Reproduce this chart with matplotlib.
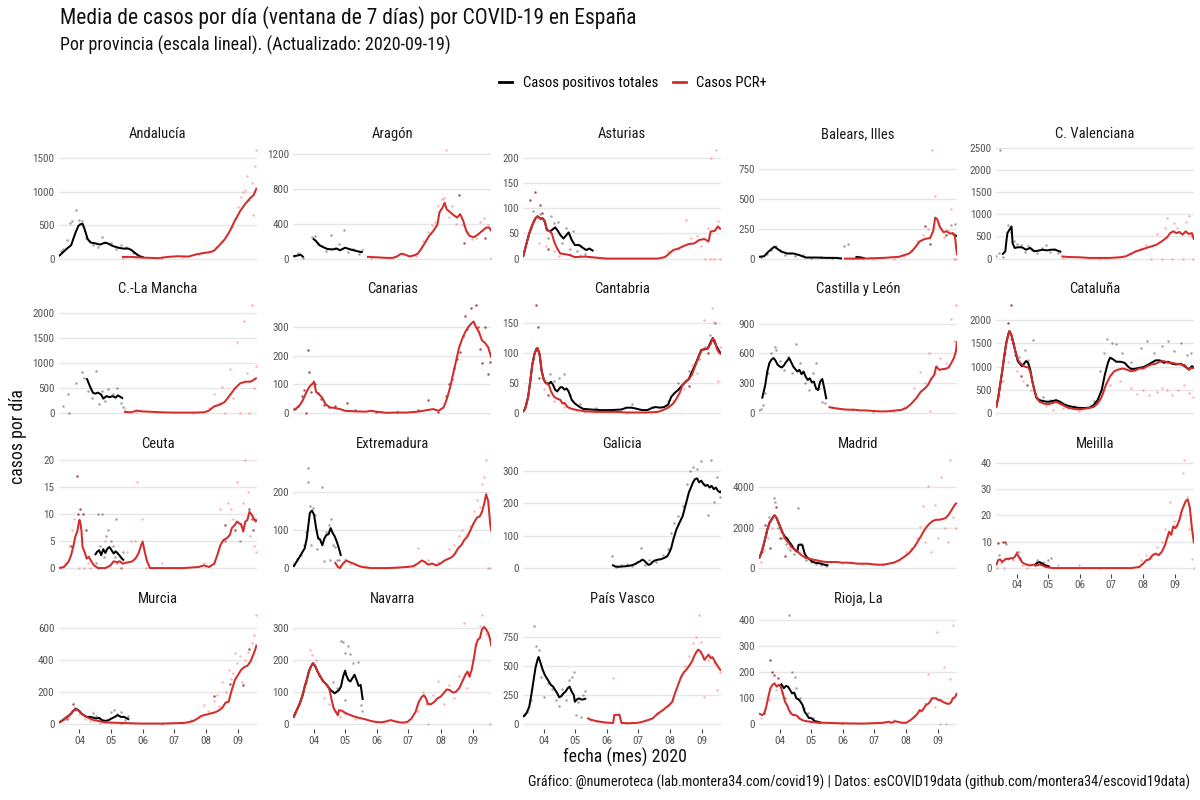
import numpy as np
import matplotlib
matplotlib.use("Agg")
import matplotlib.pyplot as plt
import matplotlib.dates as mdates
from matplotlib.lines import Line2D
from matplotlib import font_manager as fm

_names = {f.name for f in fm.fontManager.ttflist}
_fams = [f for f in ['Roboto Condensed', 'Liberation Sans Narrow', 'Open Sans Condensed', 'Roboto', 'DejaVu Sans'] if f in _names]
plt.rcParams['font.family'] = _fams + ['DejaVu Sans']

NA = np.nan
START = "2020-03-12"          # day 0 of the series below
END_DAY = 191                 # 2020-09-19
month_ticks = ["2020-04-01", "2020-05-01", "2020-06-01", "2020-07-01", "2020-08-01", "2020-09-01"]
month_labels = ["04", "05", "06", "07", "08", "09"]

title = "Media de casos por día (ventana de 7 días) por COVID-19 en España"
subtitle = "Por provincia (escala lineal). (Actualizado: 2020-09-19)"
xlabel = "fecha (mes) 2020"
ylabel = "casos por día"
caption = "Gráfico: @numeroteca (lab.montera34.com/covid19) | Datos: esCOVID19data (github.com/montera34/escovid19data)"
legend_labels = ["Casos positivos totales", "Casos PCR+"]

# ---- data: (day since 2020-03-12, value) ----
# Andalucía
and_tot = [(0,35),(8,150),(12,200),(16,380),(19,490),(21,515),(23,520),(25,440),(28,290),(31,240),(36,225),(40,210),(44,235),(47,230),(52,190),(57,165),(62,150),(67,150),(70,130),(74,80),(78,35),(82,20)]
and_pcr = [(61,25),(70,25),(80,15),(90,10),(96,5),(105,25),(115,35),(125,30),(132,60),(140,85),(146,95),(150,120),(155,200),(160,285),(165,410),(170,570),(175,710),(180,820),(185,910),(188,950),(191,1060)]
and_pts_tot = [(2,120),(4,150),(8,280),(11,530),(13,560),(17,725),(20,580),(22,560),(26,310),(29,260),(33,200),(38,170),(42,320),(45,250),(50,230),(55,140),(60,200),(65,170),(72,90),(76,50)]
and_pts_pcr = [(62,10),(75,20),(100,30),(120,30),(135,70),(145,110),(152,180),(158,260),(162,350),(167,480),(170,600),(173,780),(176,920),(178,1000),(180,1030),(182,1235),(184,880),(186,1135),(187,660),(189,1385),(190,1620)]
and_pts_both = []
# Aragón
ara_tot = [(0,27),(4,35),(7,45),(10,15),(14,NA),(19,230),(22,200),(25,155),(29,130),(33,110),(38,105),(42,115),(45,95),(50,125),(55,105),(60,90),(65,75),(67,75)]
ara_pcr = [(71,20),(80,15),(90,8),(96,8),(100,25),(104,55),(108,45),(112,25),(116,35),(120,55),(123,105),(127,180),(131,260),(135,315),(139,390),(141,530),(144,585),(146,640),(148,565),(151,535),(155,495),(158,470),(161,510),(164,430),(167,315),(170,260),(174,245),(178,275),(182,315),(186,355),(189,355),(191,315)]
ara_pts_tot = [(1,30),(5,60),(9,10),(18,250),(21,260),(24,180),(28,140),(32,90),(36,275),(40,120),(44,170),(49,325),(53,80),(58,110),(63,50),(66,100)]
ara_pts_pcr = [(75,10),(105,60),(118,30),(125,200),(130,300),(134,380),(137,420),(140,600),(143,680),(145,700),(147,1240),(150,480),(153,600),(157,400),(163,380),(168,300),(172,220),(176,240),(180,420),(184,460),(188,380),(191,8)]
ara_pts_both = [(160,730),(165,180),(185,240)]
# Asturias
ast_tot = [(0,3),(3,27),(6,50),(9,67),(12,80),(14,84),(17,79),(19,80),(21,74),(23,57),(26,54),(28,57),(31,62),(33,57),(36,47),(39,40),(42,47),(44,52),(47,37),(50,27),(54,27),(58,21),(61,17),(64,20),(68,15)]
ast_pcr = [(0,3),(3,27),(6,50),(9,67),(12,80),(14,84),(17,79),(19,80),(21,74),(23,57),(26,54),(28,49),(30,34),(33,20),(36,10),(40,9),(45,7),(50,3),(60,4),(70,2),(80,0),(100,0),(130,0),(137,3),(141,10),(145,17),(150,20),(155,25),(160,29),(165,30),(170,37),(175,39),(179,34),(181,54),(185,55),(188,64),(190,59),(191,60)]
ast_pts_tot = [(5,45),(10,95),(16,88),(20,75),(24,40),(27,85),(30,70),(34,72),(38,30),(41,60),(45,20),(48,55),(52,15),(56,25),(60,10)]
ast_pts_pcr = [(8,60),(15,30),(22,25),(30,15),(35,5),(45,10),(55,8),(65,3),(140,15),(150,20),(157,76),(162,40),(168,45),(172,25),(176,0),(178,60),(180,0),(181,200),(184,0),(186,215),(188,75),(190,0)]
ast_pts_both = [(7,117),(12,133),(16,106),(18,90),(24,20)]
# Balears, Illes
bal_tot = [(0,15),(5,20),(9,58),(13,87),(15,100),(18,80),(22,58),(27,43),(33,43),(39,29),(45,9),(55,9),(65,6),(75,6),(80,0),(85,NA),(93,15),(98,10),(102,3),(104,NA),(187,210),(189,195),(191,190)]
bal_pcr = [(82,0),(100,0),(120,6),(135,15),(145,43),(150,87),(155,145),(160,165),(165,173),(168,230),(170,345),(172,330),(174,275),(176,245),(178,222),(181,230),(184,210),(187,215),(189,188),(191,29)]
bal_pts_tot = [(2,10),(8,40),(12,75),(16,110),(20,60),(25,30),(30,50),(35,20),(42,30),(50,5),(60,10),(70,5),(82,110),(86,120),(185,280),(189,290)]
bal_pts_pcr = [(90,0),(110,0),(130,0),(140,20),(148,60),(152,150),(158,200),(163,250),(167,910),(170,530),(174,300),(178,180),(182,230),(185,420),(188,0),(190,0)]
bal_pts_both = [(160,275),(165,120),(180,200)]
# C. Valenciana
cv_tot = [(6,90),(9,165),(10,390),(11,575),(13,650),(15,725),(16,350),(18,240),(21,255),(25,255),(29,200),(33,240),(37,165),(41,180),(45,200),(49,185),(53,200),(57,200),(61,165),(63,150)]
cv_pcr = [(63,50),(70,35),(80,30),(90,15),(100,15),(110,15),(120,30),(125,50),(130,105),(135,165),(140,200),(145,240),(150,275),(155,315),(160,390),(165,480),(168,575),(171,615),(174,575),(177,600),(180,540),(183,615),(186,555),(189,575),(191,425)]
cv_pts_tot = [(0,50),(3,120),(4,2440),(7,30),(12,765),(14,600),(17,400),(20,330),(24,300),(28,150),(31,280),(35,200),(40,130),(44,250),(48,300),(52,150),(56,220),(60,120)]
cv_pts_pcr = [(65,20),(100,0),(130,130),(140,250),(145,300),(150,0),(155,550),(160,0),(163,700),(165,910),(170,0),(172,800),(175,700),(180,0),(183,820),(186,970),(188,500),(190,0)]
cv_pts_both = []
# C.-La Mancha
clm_tot = [(27,700),(29,595),(31,495),(33,410),(35,390),(38,410),(41,370),(43,290),(46,340),(49,320),(52,340),(55,310),(57,355),(60,320),(62,290)]
clm_pcr = [(63,25),(70,15),(75,50),(80,35),(90,25),(100,15),(110,10),(120,10),(130,10),(140,15),(145,50),(150,135),(155,165),(160,220),(165,355),(170,495),(175,595),(180,630),(185,630),(188,665),(191,710)]
clm_pts_tot = [(4,150),(9,390),(10,0),(17,600),(22,815),(24,700),(28,450),(32,300),(36,835),(39,185),(42,450),(45,250),(48,480),(52,380),(56,500),(60,200),(62,120)]
clm_pts_pcr = [(64,80),(75,30),(100,20),(130,10),(145,100),(150,385),(155,200),(158,530),(160,0),(165,890),(168,300),(172,1420),(175,0),(179,1840),(182,800),(184,0),(186,2170),(188,500),(190,940)]
clm_pts_both = []
# Canarias (total and PCR+ coincide)
can_tot = []
can_pcr = [(0,11),(3,17),(6,26),(9,44),(12,68),(15,89),(17,98),(19,104),(20,110),(22,74),(25,65),(28,53),(31,32),(35,20),(40,18),(45,14),(50,8),(60,6),(70,5),(75,8),(80,5),(90,1),(100,2),(110,2),(120,5),(130,11),(135,14),(140,8),(145,20),(148,48),(151,86),(154,134),(157,182),(160,230),(163,260),(166,284),(169,302),(172,314),(174,320),(176,302),(179,284),(182,254),(185,245),(188,230),(191,194)]
can_pts_tot = []
can_pts_pcr = []
can_pts_both = [(2,15),(5,25),(8,60),(10,80),(12,0),(14,222),(15,144),(17,75),(21,100),(24,70),(27,50),(30,30),(34,20),(40,25),(52,36),(60,10),(80,5),(100,5),(120,10),(130,44),(140,5),(147,60),(150,100),(153,120),(155,158),(158,190),(161,215),(164,270),(166,338),(168,293),(171,368),(176,378),(178,300),(180,224),(182,176),(185,300),(188,137),(190,180)]
# Cantabria
cnt_tot = [(0,2),(2,7),(5,27),(7,53),(9,81),(11,98),(13,107),(14,108),(16,98),(18,70),(20,56),(22,50),(25,49),(27,52),(29,47),(31,39),(33,36),(36,43),(38,43),(40,39),(42,41),(44,36),(47,22),(50,16),(54,11),(58,7),(65,6),(75,5),(85,5),(95,6),(100,9),(105,9),(110,7),(115,5),(120,5),(125,9),(128,10),(132,9),(136,10),(140,14),(143,27),(146,33),(150,39),(154,47),(160,57),(166,80),(172,105),(178,107),(183,125),(187,110),(191,98)]
cnt_pcr = [(0,2),(2,7),(5,27),(7,53),(9,81),(11,98),(13,107),(14,108),(16,98),(18,70),(20,56),(22,50),(25,47),(27,36),(30,27),(33,24),(36,22),(38,16),(40,17),(43,10),(47,7),(52,5),(60,3),(70,2),(80,2),(90,2),(100,1),(110,1),(120,1),(130,2),(135,5),(140,9),(145,16),(148,24),(151,33),(154,47),(157,53),(160,56),(163,64),(166,78),(169,91),(172,104),(175,107),(178,107),(181,115),(183,124),(185,121),(187,107),(189,101),(191,98)]
cnt_pts_tot = [(26,65),(30,54),(35,58),(40,65),(45,30),(55,15),(70,8),(90,5),(105,15),(125,10),(140,20),(150,50),(160,70),(170,90),(176,110),(180,130),(185,150)]
cnt_pts_pcr = [(3,15),(8,60),(20,40),(30,20),(40,10),(60,2),(100,0),(145,20),(155,40),(163,80),(168,66),(175,155),(182,175),(184,152),(188,53),(190,110)]
cnt_pts_both = [(10,90),(13,180),(14,144),(15,58),(24,30),(160,45),(178,100)]
# Castilla y León
cyl_tot = [(3,146),(6,282),(8,418),(10,503),(12,537),(14,554),(16,527),(18,486),(20,469),(22,459),(24,479),(26,513),(28,537),(29,554),(31,513),(33,469),(35,442),(37,418),(39,435),(41,391),(43,418),(45,367),(47,333),(49,350),(51,309),(53,316),(55,248),(57,231),(59,316),(61,343),(63,248),(65,139)]
cyl_pcr = [(67,61),(72,51),(77,44),(82,37),(87,34),(92,34),(97,27),(102,27),(107,24),(112,20),(117,17),(122,17),(127,20),(132,27),(137,31),(142,51),(147,95),(152,153),(156,214),(160,248),(163,282),(166,343),(169,384),(171,469),(174,435),(177,442),(180,445),(183,459),(186,513),(188,554),(190,622),(191,724)]
cyl_pts_tot = [(0,30),(2,44),(4,78),(6,200),(9,400),(12,600),(15,663),(16,639),(20,520),(24,430),(28,560),(32,400),(36,690),(40,500),(44,300),(48,231),(52,400),(55,503),(58,250),(61,112),(64,100)]
cyl_pts_pcr = [(70,60),(90,30),(110,10),(130,20),(140,60),(150,250),(155,418),(160,300),(164,605),(165,17),(170,400),(175,550),(180,500),(185,945),(188,724),(190,1088)]
cyl_pts_both = []
# Cataluña
cat_tot = [(0,110),(2,315),(4,608),(6,900),(8,1230),(10,1522),(12,1705),(13,1764),(15,1670),(17,1486),(19,1303),(21,1120),(23,1061),(25,1010),(27,1061),(29,1120),(31,1083),(33,937),(35,695),(37,498),(39,329),(42,278),(46,256),(50,242),(54,256),(58,278),(62,242),(66,183),(70,154),(74,132),(78,117),(82,110),(86,110),(90,117),(94,168),(98,278),(102,498),(105,827),(108,1083),(110,1193),(113,1157),(116,1105),(120,1105),(124,1083),(127,1010),(130,952),(134,952),(138,974),(142,988),(146,1032),(150,1083),(154,1135),(158,1135),(162,1083),(166,1105),(170,1061),(174,1047),(178,1061),(182,1010),(186,937),(189,1010),(191,974)]
cat_pcr = [(0,110),(2,315),(4,608),(6,900),(8,1230),(10,1522),(12,1705),(13,1764),(15,1670),(17,1486),(19,1303),(21,1157),(23,1083),(25,1047),(27,1010),(29,988),(31,988),(33,900),(35,681),(37,498),(39,351),(42,242),(46,205),(50,190),(54,212),(58,242),(62,198),(66,154),(70,110),(74,95),(78,80),(82,80),(86,95),(90,110),(94,132),(98,205),(102,351),(106,608),(110,790),(114,900),(118,937),(122,959),(126,937),(130,900),(134,915),(138,959),(142,959),(146,1010),(150,1047),(154,1061),(158,1105),(162,1120),(166,1083),(170,1083),(174,1061),(178,1047),(182,1032),(186,937),(189,974),(191,959)]
cat_pts_tot = [(5,700),(9,1300),(14,1600),(18,1250),(22,1200),(28,1350),(31,1150),(36,1574),(40,300),(45,350),(52,280),(60,250),(75,150),(95,250),(100,900),(104,1300),(107,1596),(112,1500),(116,1486),(122,1300),(130,1100),(140,1400),(146,1560),(152,1300),(160,1450),(166,1560),(172,1340),(178,1500),(184,1250),(188,1300)]
cat_pts_pcr = [(3,400),(7,680),(12,1100),(20,900),(26,700),(34,500),(40,315),(48,150),(55,58),(65,100),(80,40),(100,300),(110,600),(120,700),(130,534),(136,403),(142,498),(148,388),(155,461),(160,534),(165,498),(170,388),(176,498),(181,608),(186,425),(190,350)]
cat_pts_both = [(14,2328),(12,1940),(16,1500),(24,800),(30,600)]
# Ceuta
ceu_tot = [(35,2.4),(37,3),(39,3.3),(41,2.4),(43,3.5),(45,2.8),(47,3.6),(49,3.9),(51,3.3),(53,2.7),(55,3.1),(57,2.7),(59,2.25),(61,1.75),(63,1.4)]
ceu_pcr = [(0,0),(5,0.2),(8,0.8),(10,1.4),(12,2.4),(14,3.9),(16,5.8),(18,6.8),(19,8),(20,8.9),(21,8.3),(22,6.8),(23,3.9),(25,3),(27,1.75),(29,2.1),(31,1.4),(34,0.5),(38,0),(45,0),(50,0.5),(53,1.25),(56,1.1),(59,1.25),(62,0.8),(65,1),(68,1.1),(71,1.25),(74,1.75),(77,2.7),(79,3.9),(81,4.9),(83,3),(85,1.4),(88,0),(100,0),(120,0),(135,0.2),(140,0.5),(145,0.2),(150,0.8),(153,2.4),(156,4.25),(159,5.2),(162,5.5),(165,6.1),(167,7.4),(170,8),(172,8.6),(174,8.3),(176,8.1),(178,6.75),(180,8.6),(182,8.9),(184,10.4),(186,9.9),(188,9.25),(190,8.6),(191,9)]
ceu_pts_tot = [(36,1),(38,10),(40,4),(42,10),(44,2),(46,6),(48,7),(50,5),(52,4),(54,2),(55,9),(56,1),(60,0),(62,3),(160,5),(175,5)]
ceu_pts_pcr = [(2,0),(6,1),(10,4),(13,7),(15,9),(20,0),(24,0),(28,1),(30,0),(38,0),(45,5),(60,0),(66,3),(70,5),(74,5),(76,16),(80,9),(84,0),(90,0),(100,1),(120,0),(140,1),(150,1),(156,11),(160,5),(163,12),(166,11),(168,9),(172,16),(175,8),(178,12),(180,20),(183,14),(185,6),(188,4),(190,3)]
ceu_pts_both = [(12,4),(18,17),(19,10),(21,11),(23,10),(26,7),(160,8),(170,7),(184,11),(186,9),(187,7)]
# Extremadura
ext_tot = [(0,3),(3,16),(6,29),(9,43),(11,52),(13,78),(15,123),(16,145),(18,151),(20,140),(22,105),(24,78),(26,74),(28,60),(30,78),(32,87),(34,89),(36,105),(38,92),(40,83),(42,69),(44,52),(46,32)]
ext_pcr = [(40,16),(43,3),(45,0),(48,12),(51,20),(54,16),(58,12),(62,7),(66,3),(75,0),(90,0),(100,1),(110,3),(116,5),(120,12),(124,20),(127,16),(130,9),(134,12),(138,7),(142,12),(146,20),(150,25),(153,29),(156,38),(159,52),(162,60),(165,74),(168,83),(171,100),(174,118),(177,132),(180,136),(182,148),(184,167),(186,194),(188,176),(190,114),(191,96)]
ext_pts_tot = [(1,10),(4,25),(7,35),(10,60),(12,95),(14,262),(14,227),(16,163),(17,60),(19,158),(21,140),(23,50),(25,80),(28,213),(30,18),(32,95),(34,114),(35,20),(36,130),(38,60),(40,55),(42,22),(44,20)]
ext_pts_pcr = [(45,5),(50,25),(55,10),(60,10),(70,5),(100,2),(120,52),(130,20),(140,15),(150,50),(155,60),(160,85),(163,100),(167,90),(170,110),(174,150),(177,180),(180,160),(182,222),(184,240),(186,284),(188,0),(190,0)]
ext_pts_both = []
# Galicia
gal_tot = [(86,10),(89,5),(92,4),(96,5),(100,6),(104,8),(108,12),(111,18),(113,21),(115,26),(117,23),(119,16),(121,10),(123,12),(125,19),(127,23),(130,26),(133,27),(136,31),(139,36),(141,47),(143,62),(145,88),(148,119),(151,140),(154,160),(157,196),(160,233),(162,248),(164,264),(166,274),(168,276),(170,264),(172,269),(174,259),(176,253),(178,256),(180,248),(182,253),(184,243),(186,248),(188,238),(190,233),(191,238)]
gal_pcr = []
gal_pts_tot = [(86,36),(90,2),(95,10),(100,12),(105,5),(110,20),(114,62),(118,8),(122,25),(128,18),(135,40),(140,60),(143,108),(146,140),(150,160),(154,190),(158,258),(161,300),(164,310),(168,305),(172,330),(175,260),(178,163),(181,333),(184,202),(187,281),(190,220)]
gal_pts_pcr = []
gal_pts_both = []
# Madrid
mad_tot = [(0,467),(2,717),(4,1050),(6,1467),(8,1883),(10,2217),(12,2383),(14,2550),(15,2600),(17,2467),(19,2217),(21,1967),(23,1717),(25,1550),(27,1467),(29,1300),(31,1167),(33,1000),(35,883),(37,800),(38,1133),(40,1167),(42,1100),(44,717),(46,550),(48,467),(51,333),(54,267),(57,250),(60,217),(63,167),(67,133)]
mad_pcr = [(0,467),(2,717),(4,1050),(6,1467),(8,1883),(10,2217),(12,2383),(14,2550),(15,2600),(17,2467),(19,2217),(21,1967),(23,1717),(25,1467),(27,1333),(29,1217),(31,1050),(33,967),(35,883),(37,833),(39,717),(42,600),(45,500),(48,467),(52,417),(56,383),(60,333),(65,300),(70,300),(75,300),(80,267),(85,267),(90,250),(95,217),(100,217),(105,217),(110,183),(115,167),(120,167),(125,217),(130,267),(135,383),(140,550),(145,750),(150,1050),(153,1300),(156,1550),(159,1833),(162,2050),(165,2217),(168,2333),(171,2383),(174,2383),(177,2417),(180,2467),(183,2633),(186,2883),(189,3133),(191,3217)]
mad_pts_tot = [(3,800),(7,1800),(10,2500),(14,3467),(15,3267),(18,2000),(22,1500),(26,1200),(30,900),(34,700),(38,2967),(41,1200),(45,400),(50,300),(55,200),(60,150),(65,100)]
mad_pts_pcr = [(2,300),(5,900),(9,1500),(13,2000),(20,1800),(28,1000),(40,800),(60,350),(80,250),(100,200),(120,150),(135,400),(142,800),(147,967),(152,1500),(155,2050),(158,3050),(160,1300),(163,4050),(166,800),(170,3133),(173,1500),(176,4467),(179,1967),(182,1300),(184,5333),(187,2500),(190,1967)]
mad_pts_both = [(6,2133),(11,967),(16,3000),(20,1500),(25,600)]
# Melilla
mel_tot = [(38,1.5),(40,2.0),(42,2.3),(44,1.8),(46,1.4),(48,1.0),(50,0.8),(52,0.5)]
mel_pcr = [(0,1),(2,3),(4,3.3),(6,2.3),(8,3),(10,3.6),(12,3.3),(14,3.8),(16,3.6),(18,4.2),(20,5.5),(21,4.9),(23,3.6),(25,2.3),(27,1.7),(30,1.3),(33,1),(36,1.3),(39,1),(42,1.3),(45,1),(48,0.4),(55,0),(70,0),(100,0),(130,0),(138,0.4),(142,1.7),(145,3),(148,3.3),(151,4.9),(154,5.5),(157,4.9),(160,6.2),(163,8.7),(165,11.3),(167,13.8),(169,12.6),(171,15.8),(173,15.1),(175,16.4),(177,18.3),(179,21.5),(181,23.5),(183,25.4),(185,26),(187,22.8),(189,15.1),(191,9.4)]
mel_pts_tot = [(3,5),(10,9),(40,3),(45,2.3),(50,3),(53,4)]
mel_pts_pcr = [(1,0),(5,2),(8,0),(12,4),(16,3),(22,6),(25,1),(30,0),(60,1),(80,1),(100,0),(130,0),(140,3),(145,5),(150,4),(155,8),(160,10),(163,15),(166,12),(168,25),(172,18),(175,16),(178,20),(180,36),(181,41),(184,27),(186,15),(189,3.6),(191,0)]
mel_pts_both = [(2,9.4),(7,9.7),(9,10),(20,6),(23,4),(38,1)]
# Murcia
mur_tot = [(0,6),(3,17),(6,32),(9,46),(12,63),(14,80),(16,88),(18,88),(20,78),(22,63),(24,53),(27,42),(30,42),(33,38),(36,32),(39,36),(42,21),(45,17),(48,21),(51,32),(54,42),(57,53),(60,42),(63,42),(66,32),(68,25)]
mur_pcr = [(0,6),(3,17),(6,32),(9,46),(12,63),(14,80),(16,88),(18,88),(20,78),(22,63),(24,53),(27,42),(30,32),(34,21),(38,17),(42,11),(46,8),(50,6),(60,4),(70,2),(80,0),(100,0),(110,2),(120,4),(125,8),(130,17),(134,32),(137,46),(140,53),(143,57),(146,63),(149,67),(152,74),(155,84),(158,101),(161,131),(164,137),(166,189),(168,232),(170,274),(173,305),(176,337),(179,354),(182,362),(185,389),(187,421),(189,453),(191,495)]
mur_pts_tot = [(33,67),(36,50),(40,30),(45,10),(50,74),(53,84),(56,60),(60,70),(64,20),(67,50)]
mur_pts_pcr = [(5,20),(10,40),(20,60),(25,30),(30,15),(40,5),(60,0),(100,0),(120,5),(128,20),(135,40),(140,116),(144,80),(150,140),(153,179),(155,110),(158,263),(161,200),(164,337),(166,280),(168,316),(170,442),(172,380),(175,425),(177,263),(180,400),(183,450),(186,505),(188,558),(190,678)]
mur_pts_both = [(8,30),(14,122),(16,100),(150,170),(165,250),(178,240),(184,470)]
# Navarra
nav_tot = [(0,19),(3,40),(6,61),(9,89),(11,116),(13,137),(15,163),(17,179),(19,189),(21,181),(23,166),(25,153),(27,142),(29,132),(31,126),(33,118),(36,105),(38,100),(40,95),(42,100),(44,105),(46,116),(48,147),(50,166),(51,153),(53,137),(55,132),(57,142),(59,153),(61,137),(63,118),(65,121),(67,74)]
nav_pcr = [(0,19),(3,40),(6,61),(9,89),(11,116),(13,137),(15,163),(17,179),(19,189),(21,181),(23,166),(25,153),(27,142),(29,132),(31,126),(33,118),(35,105),(37,74),(39,47),(41,37),(43,26),(44,42),(47,40),(50,34),(54,28),(58,23),(62,19),(66,16),(70,13),(75,8),(80,5),(85,4),(90,7),(94,11),(98,7),(102,4),(106,3),(110,5),(114,16),(118,37),(121,68),(124,84),(126,89),(128,79),(130,61),(133,61),(136,68),(139,79),(142,84),(145,95),(148,107),(151,105),(154,97),(157,100),(160,111),(163,132),(166,153),(168,163),(170,147),(172,168),(174,200),(176,242),(178,263),(180,268),(182,295),(184,303),(186,295),(188,284),(190,263),(191,242)]
nav_pts_tot = [(38,130),(42,110),(46,258),(48,256),(50,220),(53,242),(55,219),(58,190),(62,192),(50,74),(65,58),(66,40)]
nav_pts_pcr = [(2,30),(8,95),(12,130),(16,232),(18,216),(22,200),(26,150),(30,80),(34,60),(40,40),(45,20),(50,30),(60,15),(80,5),(100,8),(120,40),(125,100),(128,60),(130,0),(135,90),(140,132),(145,60),(150,120),(155,80),(160,150),(165,316),(168,111),(172,200),(175,250),(178,265),(180,305),(182,339),(186,280),(190,0)]
nav_pts_both = []
# País Vasco
pv_tot = [(0,58),(2,73),(4,102),(6,145),(8,247),(10,363),(12,480),(14,552),(15,576),(17,523),(19,465),(21,422),(23,392),(25,363),(27,334),(29,320),(31,291),(33,262),(35,227),(37,238),(39,262),(41,276),(43,305),(45,320),(47,276),(49,247),(50,189),(52,209),(54,218),(56,209),(58,209),(61,218)]
pv_pcr = [(62,49),(65,35),(70,23),(75,15),(80,9),(85,6),(87,6),(88,73),(93,78),(95,6),(100,3),(110,6),(115,15),(120,29),(125,44),(130,87),(135,116),(138,140),(141,160),(144,189),(146,247),(149,320),(152,392),(155,442),(158,471),(161,509),(163,538),(165,581),(167,616),(169,640),(171,625),(173,596),(175,552),(177,576),(179,596),(181,567),(183,573),(185,538),(187,509),(189,480),(191,459)]
pv_pts_tot = [(1,80),(4,100),(8,200),(11,843),(13,674),(15,640),(17,400),(20,233),(24,350),(28,300),(32,200),(35,150),(38,300),(41,200),(44,378),(47,407),(49,450),(51,73),(53,189),(56,58),(58,250),(60,280)]
pv_pts_pcr = [(65,30),(70,20),(87,392),(100,5),(120,30),(130,80),(140,150),(148,300),(152,420),(156,500),(160,581),(164,700),(167,750),(170,936),(172,703),(175,233),(178,550),(181,581),(184,520),(187,291),(190,450)]
pv_pts_both = []
# Rioja, La
rio_tot = [(21,155),(22,150),(24,137),(26,146),(28,143),(30,130),(32,117),(34,120),(36,98),(38,94),(40,85),(42,72),(44,46),(46,35),(48,22),(50,22),(52,16),(54,9),(57,7),(60,3)]
rio_pcr = [(0,39),(3,33),(5,39),(7,65),(9,104),(11,137),(13,150),(15,156),(17,143),(19,150),(21,143),(23,117),(25,85),(27,72),(29,52),(31,39),(33,33),(35,33),(37,29),(39,20),(42,13),(46,9),(50,7),(55,4),(65,3),(80,1),(100,0),(120,3),(125,7),(128,3),(131,9),(134,7),(138,3),(142,3),(146,13),(150,26),(153,39),(155,52),(157,48),(159,59),(161,72),(163,76),(165,85),(167,98),(169,98),(171,98),(173,91),(175,91),(177,85),(179,81),(181,78),(183,76),(185,81),(187,98),(189,102),(191,117)]
rio_pts_tot = [(22,120),(25,100),(29,419),(32,200),(35,180),(36,137),(40,100),(43,60),(47,40),(52,20),(57,5)]
rio_pts_pcr = [(2,20),(6,60),(10,90),(16,130),(24,100),(30,40),(38,20),(50,5),(80,0),(120,5),(130,15),(140,5),(150,30),(155,50),(160,80),(163,191),(166,100),(170,65),(172,354),(175,0),(178,219),(180,0),(184,172),(187,380),(190,120)]
rio_pts_both = [(5,40),(11,245),(13,198),(14,189),(18,176),(20,150)]

regions = ["Andalucía", "Aragón", "Asturias", "Balears, Illes", "C. Valenciana",
           "C.-La Mancha", "Canarias", "Cantabria", "Castilla y León", "Cataluña",
           "Ceuta", "Extremadura", "Galicia", "Madrid", "Melilla",
           "Murcia", "Navarra", "País Vasco", "Rioja, La"]
tick_steps = [500, 400, 50, 250, 500, 500, 100, 50, 300, 500, 5, 100, 100, 2000, 10, 200, 100, 250, 100]
series = [
    (and_tot, and_pcr, and_pts_tot, and_pts_pcr, and_pts_both),
    (ara_tot, ara_pcr, ara_pts_tot, ara_pts_pcr, ara_pts_both),
    (ast_tot, ast_pcr, ast_pts_tot, ast_pts_pcr, ast_pts_both),
    (bal_tot, bal_pcr, bal_pts_tot, bal_pts_pcr, bal_pts_both),
    (cv_tot, cv_pcr, cv_pts_tot, cv_pts_pcr, cv_pts_both),
    (clm_tot, clm_pcr, clm_pts_tot, clm_pts_pcr, clm_pts_both),
    (can_tot, can_pcr, can_pts_tot, can_pts_pcr, can_pts_both),
    (cnt_tot, cnt_pcr, cnt_pts_tot, cnt_pts_pcr, cnt_pts_both),
    (cyl_tot, cyl_pcr, cyl_pts_tot, cyl_pts_pcr, cyl_pts_both),
    (cat_tot, cat_pcr, cat_pts_tot, cat_pts_pcr, cat_pts_both),
    (ceu_tot, ceu_pcr, ceu_pts_tot, ceu_pts_pcr, ceu_pts_both),
    (ext_tot, ext_pcr, ext_pts_tot, ext_pts_pcr, ext_pts_both),
    (gal_tot, gal_pcr, gal_pts_tot, gal_pts_pcr, gal_pts_both),
    (mad_tot, mad_pcr, mad_pts_tot, mad_pts_pcr, mad_pts_both),
    (mel_tot, mel_pcr, mel_pts_tot, mel_pts_pcr, mel_pts_both),
    (mur_tot, mur_pcr, mur_pts_tot, mur_pts_pcr, mur_pts_both),
    (nav_tot, nav_pcr, nav_pts_tot, nav_pts_pcr, nav_pts_both),
    (pv_tot, pv_pcr, pv_pts_tot, pv_pts_pcr, pv_pts_both),
    (rio_tot, rio_pcr, rio_pts_tot, rio_pts_pcr, rio_pts_both),
]

# ---- style ----
C_TOT = "#000000"
C_PCR = "#d42b2b"
C_PT_TOT = "#333333"
C_PT_PCR = "#ff6b6b"
C_PT_BOTH = "#8e1d1d"
GRID = "#e6e6e6"
TICKC = "#555555"

condensed = _fams[0] in ('Roboto Condensed', 'Liberation Sans Narrow', 'Open Sans Condensed')
k = 1.0 if condensed else 0.9   # shrink text a little when no condensed face is available

BASE = mdates.date2num(np.datetime64(START))
tick_pos = [mdates.date2num(np.datetime64(m)) for m in month_ticks]


def xy(pairs):
    if len(pairs) == 0:
        return np.array([]), np.array([])
    a = np.array(pairs, dtype=float).reshape(-1, 2)
    return BASE + a[:, 0], a[:, 1]


W, H = 1200, 800
fig = plt.figure(figsize=(12, 8), dpi=100)
fig.patch.set_facecolor("white")

col_left = [58.7, 293.3, 523, 759, 996]
panel_w = 198
row_top = [145, 299.5, 454.5, 610]
panel_h = 119
n = len(regions)

for i, (name, s, step) in enumerate(zip(regions, series, tick_steps)):
    r, c = divmod(i, 5)
    ax = fig.add_axes([col_left[c] / W, 1 - (row_top[r] + panel_h) / H, panel_w / W, panel_h / H])
    tot, pcr, p_tot, p_pcr, p_both = s
    allv = []
    for pts, col, al in ((p_tot, C_PT_TOT, 0.45), (p_pcr, C_PT_PCR, 0.5), (p_both, C_PT_BOTH, 0.75)):
        x, y = xy(pts)
        if len(x):
            ax.scatter(x, y, s=3.2, color=col, alpha=al, linewidths=0, zorder=2)
            allv.extend(y.tolist())
    for ln, col in ((tot, C_TOT), (pcr, C_PCR)):
        x, y = xy(ln)
        if len(x):
            ax.plot(x, y, color=col, lw=1.45, zorder=3, solid_capstyle="butt")
            allv.extend(y[~np.isnan(y)].tolist())
    mx = max(allv)
    ax.set_ylim(-0.05 * mx, 1.05 * mx)
    ax.set_xlim(BASE, BASE + END_DAY)
    yt = np.arange(0, 1.05 * mx + 1e-9, step)
    ax.set_yticks(yt)
    ax.set_yticklabels([("%g" % v) for v in yt])
    ax.grid(axis="y", color=GRID, lw=1.0, zorder=0)
    ax.set_axisbelow(True)
    for sp in ax.spines.values():
        sp.set_visible(False)
    ax.tick_params(axis="y", length=0, labelsize=8 * k, labelcolor=TICKC, pad=3)
    ax.set_xticks(tick_pos)
    bottom = (r == 3) or (i + 5 >= n)
    if bottom:
        ax.set_xticklabels(month_labels)
        ax.tick_params(axis="x", length=3, width=0.8, color="#444444", labelsize=8 * k,
                       labelcolor=TICKC, pad=2)
    else:
        ax.set_xticklabels([])
        ax.tick_params(axis="x", length=0)
    ax.set_title(name, fontsize=10.5 * k, color="#1a1a1a", pad=5)

fig.text(60 / W, 1 - 18 / H, title, fontsize=15.5 * k, va="center", ha="left", color="#111111")
fig.text(60 / W, 1 - 45 / H, subtitle, fontsize=13 * k, va="center", ha="left", color="#111111")
fig.text(625 / W, 1 - 757 / H, xlabel, fontsize=12.8 * k, ha="center", va="center", color="#111111")
fig.text(18 / W, 1 - 437 / H, ylabel, fontsize=12.8 * k, rotation=90, ha="center", va="center", color="#111111")
fig.text(1190 / W, 1 - 782 / H, caption, fontsize=10.3 * k, ha="right", va="center", color="#111111")

handles = [Line2D([], [], color=C_TOT, lw=2), Line2D([], [], color=C_PCR, lw=2)]
fig.legend(handles, legend_labels, loc="center", bbox_to_anchor=(633 / W, 1 - 83 / H), ncol=2,
           frameon=False, fontsize=10.5 * k, handlelength=0.9, columnspacing=1.0, handletextpad=0.7)

fig.savefig("out.png", dpi=100, facecolor="white")
